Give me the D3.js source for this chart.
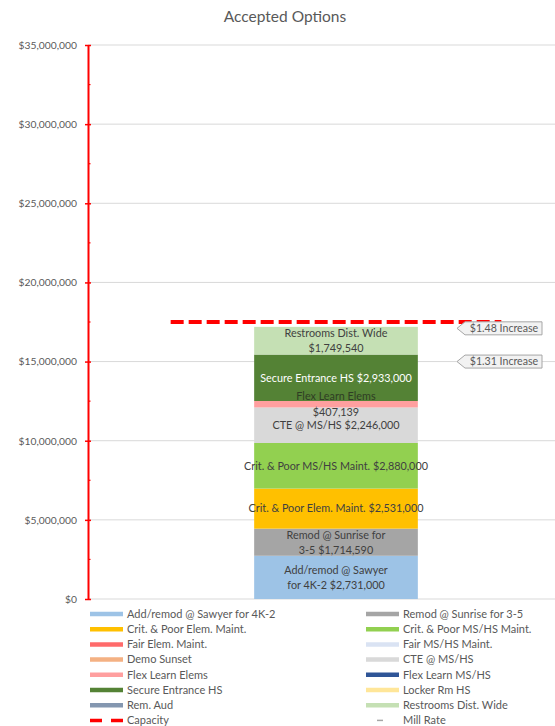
<!DOCTYPE html>
<html>
<head>
<meta charset="utf-8">
<script src="https://cdn.jsdelivr.net/npm/d3@7"></script>
<style>
  body { margin: 0; background: #fff; }
  text { font-family: Lato, "Open Sans", sans-serif; }
</style>
</head>
<body>
<div id="chart"></div>
<script>
const width = 555, height = 726;

// stacked series (bottom to top), in legend order
const seriesNames = [
  'Add/remod @ Sawyer for 4K-2', 'Remod @ Sunrise for 3-5',
  'Crit. & Poor Elem. Maint.', 'Crit. & Poor MS/HS Maint.',
  'Fair Elem. Maint.', 'Fair MS/HS Maint.',
  'Demo Sunset', 'CTE @ MS/HS',
  'Flex Learn Elems', 'Flex Learn MS/HS',
  'Secure Entrance HS', 'Locker Rm HS',
  'Rem. Aud', 'Restrooms Dist. Wide'
];
const seriesValues = [2731000, 1714590, 2531000, 2880000, 0, 0, 0, 2246000, 407139, 0, 2933000, 0, 0, 1749540];
const seriesColors = ['#9dc3e6', '#a5a5a5', '#ffc000', '#92d050', '#ff6b6b', '#dae3f3', '#f4b183', '#d9d9d9', '#ff9f9f', '#2f5597', '#548235', '#ffe699', '#8497b0', '#c5e0b4'];
const labelLines = [
  ['Add/remod @ Sawyer', 'for 4K-2 $2,731,000'],
  ['Remod @ Sunrise for', '3-5 $1,714,590'],
  ['Crit. & Poor Elem. Maint. $2,531,000'],
  ['Crit. & Poor MS/HS Maint. $2,880,000'],
  [], [], [],
  ['CTE @ MS/HS $2,246,000'],
  ['Flex Learn Elems', '$407,139'],
  [],
  ['Secure Entrance HS $2,933,000'],
  [], [],
  ['Restrooms Dist. Wide', '$1,749,540']
];

const category = 'Accepted Options';
const capacity = 17500000;
const millRateLabels = ['$1.48 Increase', '$1.31 Increase'];
const millRateAt = [17100000, 15000000];
const yTicks = [0, 5000000, 10000000, 15000000, 20000000, 25000000, 30000000, 35000000];

const margin = { top: 45, left: 88, bottom: 127 };

const svg = d3.select('#chart').append('svg')
  .attr('width', width)
  .attr('height', height);

const y = d3.scaleLinear().domain([0, 35000000]).range([height - margin.bottom, margin.top]);
const x = d3.scaleBand().domain([category]).range([margin.left, 584]);
const bw = x.bandwidth();

// title
svg.append('text')
  .attr('x', 285).attr('y', 22)
  .attr('text-anchor', 'middle')
  .attr('font-size', 15.5).attr('fill', '#595959')
  .text('Accepted Options');

// gridlines
svg.append('g').selectAll('line')
  .data(yTicks)
  .join('line')
  .attr('x1', margin.left).attr('x2', width)
  .attr('y1', d => y(d)).attr('y2', d => y(d))
  .attr('stroke', '#d9d9d9').attr('stroke-width', 1);

// stacked bar
const stacked = [];
let acc = 0;
seriesValues.forEach((v, i) => {
  stacked.push({ name: seriesNames[i], v0: acc, v1: acc + v, color: seriesColors[i], lines: labelLines[i] });
  acc += v;
});

const barX = x(category) + bw * 0.335;
const barW = bw * 0.33;

svg.append('g').selectAll('rect')
  .data(stacked.filter(d => d.v1 > d.v0))
  .join('rect')
  .attr('x', barX)
  .attr('width', barW)
  .attr('y', d => y(d.v1))
  .attr('height', d => y(d.v0) - y(d.v1))
  .attr('fill', d => d.color);

// labels
const labels = svg.append('g').attr('text-anchor', 'middle').attr('font-size', 10.8);
stacked.filter(d => d.lines.length).forEach(d => {
  const cy = (y(d.v0) + y(d.v1)) / 2;
  const n = d.lines.length;
  const lh = d.name === 'Flex Learn Elems' ? 16 : 15;
  d.lines.forEach((t, j) => {
    labels.append('text')
      .attr('x', barX + barW / 2)
      .attr('y', cy + (j - (n - 1) / 2) * lh + 3.8)
      .attr('fill', d.name === 'Secure Entrance HS' ? '#ffffff' : (d.name === 'Flex Learn Elems' && j === 0 ? '#2f3d24' : '#404040'))
      .text(t);
  });
});

// capacity line
svg.append('line')
  .attr('x1', x(category) + bw / 6).attr('x2', x(category) + bw * 5 / 6)
  .attr('y1', y(capacity)).attr('y2', y(capacity))
  .attr('stroke', '#ff0000').attr('stroke-width', 4)
  .attr('stroke-dasharray', '13,5');

// mill rate callouts
const callouts = svg.append('g');
millRateLabels.forEach((t, i) => {
  const ty = y(millRateAt[i]);
  const x0 = 457, x1 = 465, x2 = 542, h = 13;
  callouts.append('path')
    .attr('d', `M${x0},${ty} L${x1},${ty - h / 2} L${x2},${ty - h / 2} L${x2},${ty + h / 2} L${x1},${ty + h / 2} Z`)
    .attr('fill', '#f2f2f2').attr('stroke', '#a6a6a6').attr('stroke-width', 1);
  callouts.append('text')
    .attr('x', (x1 + x2) / 2 + 0.5).attr('y', ty + 3.8)
    .attr('text-anchor', 'middle')
    .attr('font-size', 10.6).attr('fill', '#595959')
    .text(t);
});

// y axis
const yAxis = d3.axisLeft(y)
  .tickValues(yTicks)
  .tickSize(3)
  .tickSizeOuter(0)
  .tickPadding(8)
  .tickFormat(d => '$' + d3.format(',')(d));

const gy = svg.append('g')
  .attr('transform', `translate(${margin.left},0)`)
  .call(yAxis);
gy.select('.domain').attr('stroke', '#ff0000').attr('stroke-width', 2);
gy.selectAll('.tick line').attr('stroke', '#ff0000').attr('stroke-width', 1.5).attr('x2', 3).attr('x1', -3);
gy.selectAll('.tick text').attr('fill', '#595959').attr('font-size', 10.3).attr('font-family', 'Lato, sans-serif');

// minor ticks
svg.append('g').selectAll('line')
  .data(d3.range(2500000, 35000000, 5000000))
  .join('line')
  .attr('x1', margin.left).attr('x2', margin.left + 2.5)
  .attr('y1', d => y(d)).attr('y2', d => y(d))
  .attr('stroke', '#ff0000').attr('stroke-width', 1.2);

// legend
const legendItems = seriesNames.map((n, i) => ({ name: n, color: seriesColors[i], type: 'bar' }));
legendItems.push({ name: 'Capacity', color: '#ff0000', type: 'dash' });
legendItems.push({ name: 'Mill Rate', color: '#a6a6a6', type: 'mill' });

const legend = svg.append('g');
legendItems.forEach((d, i) => {
  const col = i % 2, row = Math.floor(i / 2);
  const lx = col === 0 ? 90 : 366;
  const ly = 614 + row * 15.2;
  if (d.type === 'bar') {
    legend.append('line')
      .attr('x1', lx).attr('x2', lx + 33).attr('y1', ly).attr('y2', ly)
      .attr('stroke', d.color).attr('stroke-width', 4.5);
  } else if (d.type === 'dash') {
    legend.append('line')
      .attr('x1', lx).attr('x2', lx + 33).attr('y1', ly).attr('y2', ly)
      .attr('stroke', d.color).attr('stroke-width', 3.5).attr('stroke-dasharray', '12,9');
  } else {
    legend.append('line')
      .attr('x1', lx + 11).attr('x2', lx + 17).attr('y1', ly).attr('y2', ly)
      .attr('stroke', d.color).attr('stroke-width', 1.5);
  }
  legend.append('text')
    .attr('x', lx + 37).attr('y', ly + 3.8)
    .attr('font-size', 11).attr('fill', '#595959')
    .text(d.name);
});
</script>
</body>
</html>
